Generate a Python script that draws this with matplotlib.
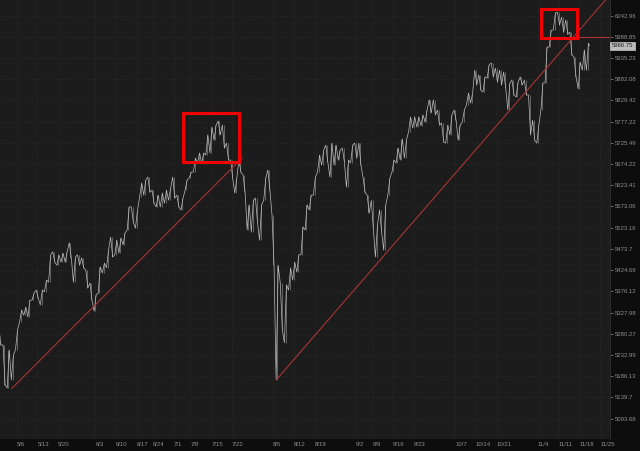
import numpy as np
import matplotlib
matplotlib.use('Agg')
import matplotlib.pyplot as plt
from matplotlib.patches import Rectangle
from matplotlib.ticker import FixedLocator, NullLocator

# trading days start 2024-04-30 (index -1 relative to 5/1)
holidays = ['2024-05-27', '2024-06-19', '2024-07-04', '2024-09-02']
start = '2024-05-01'

# daily low / high (4/30 .. 11/20)
day_lo = [5255, 5167, 5160, 5178, 5244, 5307, 5322, 5318, 5356, 5361,
          5345, 5375, 5397, 5443, 5436, 5443, 5443, 5453, 5397, 5436,
          5430, 5384, 5356, 5331, 5372, 5418, 5430, 5455, 5460, 5464,
          5483, 5518, 5536, 5522, 5595, 5600, 5607, 5581, 5572, 5572,
          5581, 5588, 5593, 5572, 5565, 5612, 5641, 5655, 5677, 5677,
          5696, 5701, 5732, 5745, 5713, 5684, 5641, 5605, 5655, 5607,
          5518, 5513, 5536, 5494, 5588, 5612, 5436, 5178, 5289, 5260,
          5379, 5402, 5420, 5460, 5518, 5565, 5600, 5655, 5672, 5679,
          5643, 5672, 5684, 5679, 5619, 5677, 5689, 5672, 5607, 5558,
          5522, 5455, 5513, 5471, 5600, 5655, 5677, 5684, 5689, 5752,
          5762, 5764, 5767, 5776, 5799, 5794, 5769, 5728, 5725, 5745,
          5781, 5732, 5776, 5818, 5823, 5868, 5855, 5850, 5885, 5888,
          5875, 5868, 5860, 5806, 5843, 5838, 5868, 5843, 5745, 5732,
          5725, 5806, 5873, 5963, 6006, 6019, 6001, 5996, 5943, 5888,
          5858, 5905, 5905]
day_hi = [5277, 5255, 5244, 5233, 5289, 5334, 5340, 5356, 5372, 5379,
          5379, 5402, 5460, 5467, 5460, 5464, 5467, 5488, 5455, 5460,
          5453, 5425, 5395, 5368, 5432, 5441, 5471, 5501, 5494, 5499,
          5511, 5572, 5572, 5565, 5629, 5636, 5643, 5612, 5600, 5605,
          5612, 5617, 5643, 5600, 5593, 5636, 5655, 5689, 5701, 5701,
          5745, 5764, 5769, 5779, 5769, 5725, 5684, 5641, 5684, 5648,
          5577, 5588, 5593, 5577, 5641, 5660, 5553, 5436, 5395, 5391,
          5430, 5443, 5460, 5525, 5577, 5600, 5643, 5696, 5708, 5720,
          5725, 5720, 5708, 5713, 5684, 5720, 5725, 5725, 5643, 5600,
          5588, 5529, 5565, 5577, 5641, 5684, 5713, 5735, 5732, 5789,
          5789, 5789, 5794, 5806, 5831, 5831, 5806, 5774, 5769, 5794,
          5806, 5769, 5806, 5848, 5848, 5905, 5893, 5888, 5918, 5923,
          5910, 5905, 5900, 5873, 5880, 5875, 5888, 5880, 5843, 5781,
          5769, 5873, 5963, 6006, 6050, 6052, 6039, 6032, 6001, 5938,
          5925, 5956, 5973]
last_price = 5966.75

tick_dates = ['2024-05-06', '2024-05-13', '2024-05-20', '2024-06-03', '2024-06-10',
              '2024-06-17', '2024-06-24', '2024-07-01', '2024-07-08', '2024-07-15',
              '2024-07-22', '2024-08-05', '2024-08-12', '2024-08-19', '2024-09-02',
              '2024-09-09', '2024-09-16', '2024-09-23', '2024-10-07', '2024-10-14',
              '2024-10-21', '2024-11-04', '2024-11-11', '2024-11-18', '2024-11-25']
tick_labels = ['5/6', '5/13', '5/20', '6/3', '6/10', '6/17', '6/24', '7/1', '7/8',
               '7/15', '7/22', '8/5', '8/12', '8/19', '9/2', '9/9', '9/16', '9/23',
               '10/7', '10/14', '10/21', '11/4', '11/11', '11/18', '11/25']
price_ticks = [5093.68, 5139.7, 5186.13, 5232.99, 5280.27, 5327.98, 5376.12,
               5424.69, 5473.7, 5523.16, 5573.06, 5623.41, 5674.22, 5725.49,
               5777.22, 5829.42, 5882.08, 5935.23, 5988.85, 6042.96]

# trend lines (trading-day index, price)
trend1_x = [1.8, 57.5]
trend1_y = [5159, 5689]
trend2_x = [65.85, 146.5]
trend2_y = [5179, 6098]
level_line = 5988.85
# boxes: (day from, day to, price low, price high)
boxes = [(43.1, 56.7, 5680, 5799), (129.7, 138.5, 5985, 6060)]

bg = '#1c1c1c'
dark = '#0d0d0d'
txt = '#8e8e8e'

fig = plt.figure(figsize=(6.4, 4.51), dpi=100, facecolor=dark)
ax = fig.add_axes([0, 12 / 451, 610 / 640, 439 / 451], facecolor=bg)

days = np.arange(len(day_hi)) - 1
lo = np.array(day_lo, float)
hi = np.array(day_hi, float)
mid = (lo + hi) / 2
nxt = np.append(mid[1:], last_price)
up = nxt >= mid
first = np.where(up, lo, hi)
second = np.where(up, hi, lo)
xs = np.column_stack([days - 0.3, days + 0.2]).ravel()
ys = np.column_stack([first, second]).ravel()
xs = np.append(xs, days[-1] + 0.45)
ys = np.append(ys, last_price)

# intraday ranges + path
ax.vlines(days, lo, hi, color='#9a9a9a', lw=0.4)
ax.plot(xs, ys, color='#bcbcbc', lw=0.5)

ax.plot(trend1_x, trend1_y, color='#a83434', lw=0.8)
ax.plot(trend2_x, trend2_y, color='#a83434', lw=0.8)
ax.hlines(level_line, boxes[1][1], 146.5, color='#a83434', lw=0.8)

for x0, x1, y0, y1 in boxes:
    ax.add_patch(Rectangle((x0, y0), x1 - x0, y1 - y0, fill=False,
                           edgecolor='#f00000', lw=2.2, zorder=5))

ax.set_yscale('log')
ax.set_ylim(5049.6, 6083.3)
ax.set_xlim(-1.04, 146.4)

ax.yaxis.set_major_locator(FixedLocator(price_ticks))
ax.yaxis.set_minor_locator(NullLocator())
ax.set_yticklabels([f'{v:g}' for v in price_ticks])
ax.yaxis.tick_right()

tick_pos = [np.busday_count(start, d, holidays=holidays) for d in tick_dates]
ax.set_xticks(tick_pos)
ax.set_xticklabels(tick_labels, ha='left')

ax.tick_params(axis='y', labelsize=4.3, colors=txt, length=2, width=0.5, pad=1.5)
ax.tick_params(axis='x', labelsize=4.3, colors=txt, length=0, pad=2.5)
for lab in ax.get_xticklabels() + ax.get_yticklabels():
    lab.set_family('Liberation Sans')

ax.grid(True, color='#333333', linestyle=(0, (1, 2.5)), lw=0.5)
ax.set_axisbelow(True)
for s in ax.spines.values():
    s.set_visible(False)
ax.spines['right'].set_visible(True)
ax.spines['right'].set_color('#333333')
ax.spines['right'].set_linewidth(0.6)

ax.text(1.003, last_price, f'{last_price:.2f}', transform=ax.get_yaxis_transform(),
        fontsize=4.3, family='Liberation Sans', color='#1c1c1c', va='center', ha='left',
        bbox=dict(boxstyle='square,pad=0.25', fc='#bdbdbd', ec='#dddddd', lw=0.4),
        clip_on=False, zorder=6)

fig.savefig('out.png', dpi=100, facecolor=dark)
